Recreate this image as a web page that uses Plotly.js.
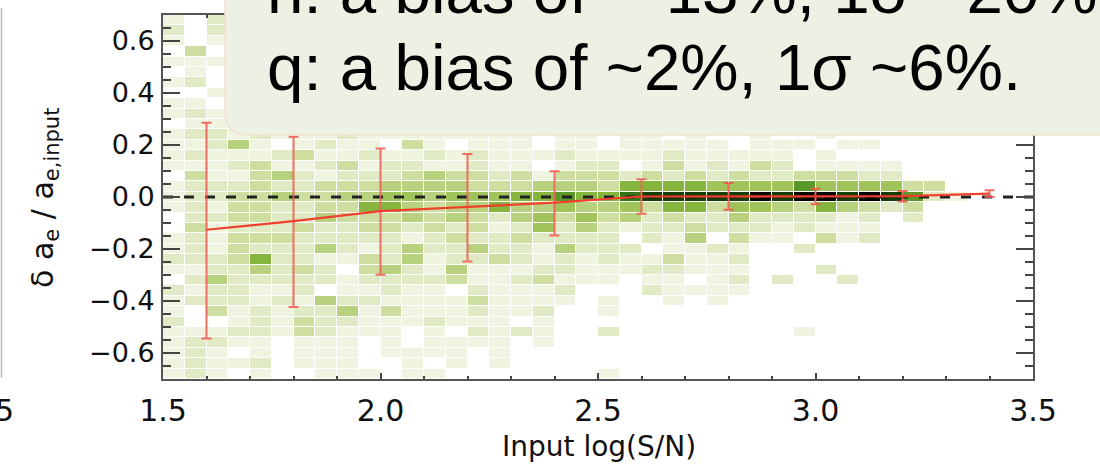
<!DOCTYPE html>
<html>
<head>
<meta charset="utf-8">
<script src="https://cdn.plot.ly/plotly-3.0.1.min.js"></script>
<style>html,body{margin:0;padding:0;background:#fff;}#chart{width:1100px;height:469px;}</style>
</head>
<body>
<div id="chart"></div>
<script>
// ---- data ----
// histogram bin centres
var binX = [1.525,1.575,1.625,1.675,1.725,1.775,1.825,1.875,1.925,1.975,
            2.025,2.075,2.125,2.175,2.225,2.275,2.325,2.375,2.425,2.475,
            2.525,2.575,2.625,2.675,2.725,2.775,2.825,2.875,2.925,2.975,
            3.025,3.075,3.125,3.175,3.225,3.275,3.325,3.375,3.425,3.475];
var binY = [-0.68,-0.64,-0.60,-0.56,-0.52,-0.48,-0.44,-0.40,-0.36,-0.32,-0.28,-0.24,
            -0.20,-0.16,-0.12,-0.08,-0.04,0.00,0.04,0.08,0.12,0.16,0.20,0.24,
            0.28,0.32,0.36,0.40,0.44,0.48,0.52,0.56,0.60,0.64,0.68];
// density level of each cell, one row per binY (bottom to top), one value per binX
var densityRows = [
 [1,2,1, 0,1,0,0,1,1,1,0,1,1, 0,0,0,0,0,0,0,1,0,0,0,0,0,0, 0,0,0,0,0,0,0,0,0,0,0,0,0],
 [1,2,1, 1,2,0,1,1,1,0,0,1,0, 1,0,1,0,0,0,0,0,0,0,0,0,0,0, 0,0,0,0,0,0,0,0,0,0,0,0,0],
 [1,2,1, 0,1,0,1,1,1,0,1,1,1, 1,0,1,0,0,0,0,0,0,0,0,0,0,0, 0,0,0,0,0,0,0,0,0,0,0,0,0],
 [1,2,2, 1,1,0,1,1,1,0,1,0,1, 1,1,1,0,1,0,0,0,0,0,0,0,0,0, 0,0,0,0,0,0,0,0,0,0,0,0,0],
 [1,1,1, 2,2,1,3,2,1,1,1,0,1, 0,2,1,2,1,0,0,2,0,0,0,0,0,0, 0,0,1,0,0,0,0,0,0,0,0,0,0],
 [2,0,0, 1,2,1,3,2,2,1,1,1,2, 1,1,1,0,1,0,0,0,0,0,0,0,0,0, 0,0,0,0,0,0,0,0,0,0,0,0,0],
 [1,0,3, 1,2,1,2,2,4,1,3,1,1, 1,2,1,1,2,0,0,1,0,0,0,0,0,0, 0,0,0,0,0,0,0,0,0,0,0,0,0],
 [1,2,2, 2,1,2,1,4,2,2,1,1,1, 1,3,1,1,1,1,0,1,0,0,1,0,1,0, 0,0,0,0,0,0,0,0,0,0,0,0,0],
 [2,1,2, 2,1,1,2,0,1,1,2,1,1, 0,2,1,1,1,2,0,0,0,2,1,1,1,1, 0,0,0,0,0,0,0,0,0,0,0,0,0],
 [0,2,4, 2,2,2,2,2,1,2,2,2,2, 3,1,1,2,3,1,1,1,0,1,1,0,1,2, 0,2,0,0,2,0,0,0,0,0,0,0,0],
 [1,1,2, 2,4,2,3,2,0,3,4,2,1, 4,1,1,1,2,2,1,1,1,2,2,1,1,1, 0,0,0,2,0,0,0,0,0,0,0,0,0],
 [2,2,2, 3,6,2,2,1,1,3,2,4,1, 2,2,3,2,1,2,1,2,1,1,3,1,1,2, 0,0,0,0,0,0,0,0,0,0,0,0,0],
 [1,2,1, 3,2,2,2,4,2,1,2,4,2, 2,4,2,2,1,4,2,2,2,0,1,1,2,1, 0,0,2,0,0,0,0,0,0,0,0,0,0],
 [1,2,1, 3,3,3,2,2,2,2,2,1,2, 3,2,2,3,2,2,2,2,0,2,1,4,0,3, 1,1,0,3,1,2,0,0,0,0,0,0,0],
 [0,3,1, 2,2,2,3,2,2,3,3,2,3, 2,3,1,2,5,2,4,2,1,2,2,3,2,2, 2,1,2,1,1,1,0,0,0,0,0,0,0],
 [0,2,2, 3,3,2,2,4,3,3,3,4,3, 4,3,2,4,5,3,5,3,4,2,3,2,2,4, 2,2,2,2,1,2,0,2,0,0,0,0,0],
 [1,2,1, 3,3,2,2,3,3,6,6,4,3, 4,4,6,4,4,5,4,4,5,3,6,6,3,5, 5,4,3,6,4,3,2,3,0,0,0,0,0],
 [1,2,2, 3,3,4,3,3,4,4,5,5,4, 5,5,5,6,6,7,6,6,8,9,9,9,9,9, 10,9,10,10,9,10,9,7,2,1,0,0,0],
 [1,2,2, 2,3,2,2,3,3,3,4,4,4, 4,3,3,3,4,4,4,3,6,6,6,6,5,5, 5,5,7,5,5,5,5,3,3,0,0,0,0],
 [0,3,1, 1,3,4,2,1,2,2,2,3,4, 3,3,2,3,1,3,3,3,2,3,2,3,2,3, 2,2,3,3,3,2,2,0,0,0,0,0,0],
 [1,1,1, 2,3,1,1,2,3,1,2,2,1, 1,2,1,1,0,1,2,2,0,1,3,1,2,1, 3,2,0,1,1,1,1,0,0,0,0,0,0],
 [1,2,1, 1,1,2,3,1,1,2,1,1,2, 1,2,1,1,1,2,1,1,1,1,2,1,1,1, 1,1,0,1,0,0,0,0,0,0,0,0,0],
 [1,1,2, 4,1,0,1,2,1,1,0,3,1, 0,1,1,1,0,1,1,0,1,1,1,1,1,0, 1,1,1,0,1,1,0,0,0,0,0,0,0],
 [1,2,2, 1,2,1,1,1,2,1,1,1,1, 1,1,1,1,0,1,1,0,1,1,0,1,0,0, 1,0,0,1,0,0,0,0,0,0,0,0,0],
 [0,1,1, 1,1,2,1,0,1,1,1,0,1, 1,1,0,1,0,0,1,0,0,1,0,0,0,0, 0,0,0,0,0,0,0,0,0,0,0,0,0],
 [1,2,1, 0,1,1,0,2,1,0,1,1,0, 1,0,1,0,0,1,0,0,1,0,0,0,0,0, 0,0,0,0,0,0,0,0,0,0,0,0,0],
 [1,1,0, 1,1,0,1,0,1,1,0,1,1, 0,1,0,0,1,0,0,0,0,0,0,0,0,0, 0,0,0,0,0,0,0,0,0,0,0,0,0],
 [0,0,1, 1,0,1,0,1,1,0,1,0,0, 1,0,0,1,0,0,0,0,0,0,0,0,0,0, 0,0,0,0,0,0,0,0,0,0,0,0,0],
 [1,2,0, 0,1,0,1,1,0,0,1,0,1, 0,0,1,0,0,0,0,0,0,0,0,0,0,0, 0,0,0,0,0,0,0,0,0,0,0,0,0],
 [0,1,0, 1,0,1,0,0,1,0,0,1,0, 1,0,0,0,0,0,0,0,0,0,0,0,0,0, 0,0,0,0,0,0,0,0,0,0,0,0,0],
 [1,1,1, 0,1,0,0,1,0,1,0,0,1, 0,1,0,0,0,0,0,0,0,0,0,0,0,0, 0,0,0,0,0,0,0,0,0,0,0,0,0],
 [0,3,0, 1,0,0,1,0,0,0,1,0,0, 0,0,0,0,0,0,0,0,0,0,0,0,0,0, 0,0,0,0,0,0,0,0,0,0,0,0,0],
 [1,0,1, 0,1,1,0,0,0,1,0,0,0, 0,0,0,0,0,0,0,0,0,0,0,0,0,0, 0,0,0,0,0,0,0,0,0,0,0,0,0],
 [2,0,2, 1,0,0,1,0,1,0,0,1,0, 0,0,0,0,0,0,0,0,0,0,0,0,0,0, 0,0,0,0,0,0,0,0,0,0,0,0,0],
 [1,0,2, 0,1,0,1,0,0,1,0,0,0, 0,0,0,0,0,0,0,0,0,0,0,0,0,0, 0,0,0,0,0,0,0,0,0,0,0,0,0]
];
// binned mean bias with 1-sigma scatter
var snX      = [1.6, 1.8, 2.0, 2.2, 2.4, 2.6, 2.8, 3.0, 3.2, 3.4];
var biasMean = [-0.126, -0.093, -0.054, -0.039, -0.022, 0.002, 0.002, 0.002, 0.003, 0.013];
var sigUp    = [0.412, 0.325, 0.241, 0.204, 0.121, 0.066, 0.052, 0.030, 0.020, 0.013];
var sigDown  = [0.418, 0.330, 0.245, 0.209, 0.126, 0.066, 0.051, 0.030, 0.020, 0.013];
var zeroLineX = [1.5, 3.5];
var zeroLineY = [0, 0];
var xTickVals = [1.5, 2.0, 2.5, 3.0, 3.5];
var yTickVals = [-0.6, -0.4, -0.2, 0.0, 0.2, 0.4, 0.6];
var noteLines = ["n: a bias of ~-13%, 1σ ~20%", "q: a bias of ~2%, 1σ ~6%."];
var xTitle = "Input log(S/N)";
var yTitle = "δ a<sub>e</sub> / a<sub>e,input</sub>";

// ---- layout helpers (pixel -> paper) ----
var L = 163, R = 67, T = 15, B = 90, W = 1100, H = 469;
var PW = W - L - R, PH = H - T - B;
function px(x) { return (x - L) / PW; }
function py(y) { return (H - B - y) / PH; }

var axisFont = {family: 'DejaVu Sans, sans-serif', size: 27, color: '#111'};

var traces = [
  {
    type: 'heatmap', x: binX, y: binY, z: densityRows,
    zmin: 0, zmax: 10, showscale: false, hoverinfo: 'skip',
    xgap: 1, ygap: 1,
    colorscale: [
      [0.0, '#ffffff'], [0.1, '#eff4e0'], [0.2, '#e0eac4'], [0.3, '#cddea0'],
      [0.4, '#b8d17e'], [0.5, '#a0c45a'], [0.6, '#86b53e'], [0.7, '#5a9729'],
      [0.8, '#347418'], [0.9, '#143e08'], [1.0, '#040604']
    ]
  },
  {
    type: 'scatter', mode: 'lines', x: zeroLineX, y: zeroLineY, hoverinfo: 'skip',
    line: {color: '#222', width: 3, dash: '10px,11px'}
  },
  {
    type: 'scatter', mode: 'lines', x: snX, y: biasMean, hoverinfo: 'skip',
    line: {color: '#f0402c', width: 2.2},
    error_y: {type: 'data', symmetric: false, array: sigUp, arrayminus: sigDown,
              color: 'rgba(240,85,75,0.85)', thickness: 2, width: 5}
  }
];

var layout = {
  width: W, height: H,
  margin: {l: L, r: R, t: T, b: B, pad: 0},
  paper_bgcolor: '#fff', plot_bgcolor: '#fff',
  showlegend: false,
  xaxis: {
    range: [1.5, 3.5], tickvals: xTickVals, tickformat: '.1f',
    ticks: 'inside', ticklen: 6, tickwidth: 2, tickcolor: '#444',
    minor: {dtick: 0.1, tick0: 1.5, ticks: 'inside', ticklen: 3, tickwidth: 2, tickcolor: '#444', showgrid: false},
    showline: true, linecolor: '#555', linewidth: 2, mirror: 'ticks',
    showgrid: false, zeroline: false,
    tickfont: {family: 'DejaVu Sans, sans-serif', size: 30, color: '#111'},
    ticklabelstandoff: 4
  },
  yaxis: {
    range: [-0.7, 0.7], tickvals: yTickVals, tickformat: '.1f',
    ticks: 'inside', ticklen: 17, tickwidth: 2, tickcolor: '#444',
    minor: {dtick: 0.05, tick0: 0, ticks: 'inside', ticklen: 8, tickwidth: 2, tickcolor: '#444', showgrid: false},
    showline: true, linecolor: '#555', linewidth: 2, mirror: 'ticks',
    showgrid: false, zeroline: false,
    tickfont: axisFont,
    ticklabelstandoff: 1
  },
  shapes: [
    {type: 'path', xref: 'paper', yref: 'paper', layer: 'above',
     path: 'M ' + px(225) + ',' + py(-10) + ' L ' + px(225) + ',' + py(112) +
           ' Q ' + px(225) + ',' + py(135) + ' ' + px(248) + ',' + py(135) +
           ' L ' + px(1110) + ',' + py(135) + ' L ' + px(1110) + ',' + py(-10) + ' Z',
     fillcolor: '#edf1e3', line: {color: '#f4dfd0', width: 1.5}},
    {type: 'line', xref: 'paper', yref: 'paper', layer: 'above',
     x0: px(1.5), x1: px(1.5), y0: py(8), y1: py(378),
     line: {color: '#bbbbbb', width: 1.5}}
  ],
  annotations: [
    {xref: 'paper', yref: 'paper', x: px(265), y: py(-9.6), xanchor: 'left', yanchor: 'middle',
     text: noteLines[0], showarrow: false,
     font: {family: 'Liberation Sans, Arial, sans-serif', size: 65.5, color: '#000'}},
    {xref: 'paper', yref: 'paper', x: px(265), y: py(67.3), xanchor: 'left', yanchor: 'middle',
     text: noteLines[1], showarrow: false,
     font: {family: 'Liberation Sans, Arial, sans-serif', size: 65.5, color: '#000'}},
    {xref: 'paper', yref: 'paper', x: px(599), y: py(446), xanchor: 'center', yanchor: 'middle',
     text: xTitle, showarrow: false,
     font: {family: 'DejaVu Sans, sans-serif', size: 28, color: '#111'}},
    {xref: 'paper', yref: 'paper', x: px(44), y: py(198), xanchor: 'center', yanchor: 'middle',
     text: yTitle, showarrow: false, textangle: -90,
     font: {family: 'DejaVu Sans, sans-serif', size: 30, color: '#111'}},
    {xref: 'paper', yref: 'paper', x: px(16), y: py(410.6), xanchor: 'right', yanchor: 'middle',
     text: '5', showarrow: false,
     font: {family: 'DejaVu Sans, sans-serif', size: 30, color: '#111'}}
  ]
};

Plotly.newPlot('chart', traces, layout, {staticPlot: true, displayModeBar: false});
</script>
</body>
</html>
